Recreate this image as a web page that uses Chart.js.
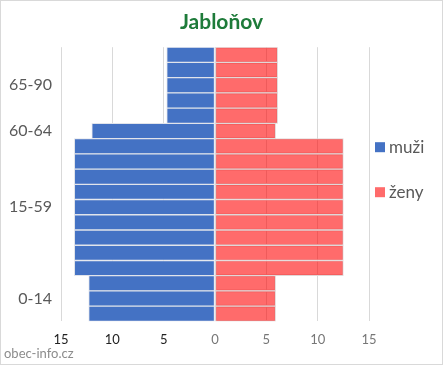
<!DOCTYPE html>
<html>
<head>
<meta charset="utf-8">
<script src="https://cdn.jsdelivr.net/npm/chart.js@4"></script>
<style>
  html, body { margin: 0; padding: 0; background: #fff; }
  #wrap { position: relative; width: 443px; height: 365px; }
  #frame { position: absolute; left: 0; top: 0; width: 443px; height: 365px; box-sizing: border-box; border: 1px solid #d9d9d9; pointer-events: none; }
  #src { position: absolute; left: 4px; top: 345px; font: 13px Lato, "Open Sans", sans-serif; color: #8c8c8c; }
</style>
</head>
<body>
<div id="wrap">
  <canvas id="chart" width="443" height="365"></canvas>
  <div id="frame"></div>
  <div id="src">obec-info.cz</div>
</div>
<script>
// věkové skupiny shora dolů
const ageGroups = ['65-90', '60-64', '15-59', '0-14'];
const rowsPerGroup = [5, 1, 9, 3];
const muzi = [4.7, 12.0, 13.7, 12.3];
const zeny = [6.1, 5.9, 12.5, 5.9];

const labels = [];
const menRows = [];
const womenRows = [];
ageGroups.forEach((g, i) => {
  const n = rowsPerGroup[i];
  for (let k = 0; k < n; k++) {
    labels.push(k === Math.floor(n / 2) ? g : '');
    menRows.push(-muzi[i]);
    womenRows.push(zeny[i]);
  }
});

// legenda vpravo od grafu
const sideLegend = {
  id: 'sideLegend',
  afterDraw(chart) {
    const ctx = chart.ctx;
    const a = chart.chartArea;
    ctx.save();
    ctx.font = '17px Lato';
    ctx.textBaseline = 'middle';
    chart.data.datasets.forEach((ds, i) => {
      const y = a.top + 100 + i * 45;
      ctx.fillStyle = ds.backgroundColor;
      ctx.fillRect(a.right + 6, y - 5, 10, 10);
      ctx.fillStyle = '#595959';
      ctx.fillText(ds.label, a.right + 20, y);
    });
    ctx.restore();
  }
};

new Chart(document.getElementById('chart'), {
  type: 'bar',
  data: {
    labels: labels,
    datasets: [
      { label: 'muži', data: menRows, backgroundColor: '#4472C4', borderColor: 'rgba(225,228,235,1)', borderWidth: 1, borderSkipped: false, barPercentage: 1, categoryPercentage: 1 },
      { label: 'ženy', data: womenRows, backgroundColor: 'rgba(255,0,0,0.58)', borderColor: 'rgba(225,215,215,1)', borderWidth: 1, borderSkipped: false, barPercentage: 1, categoryPercentage: 1 }
    ]
  },
  options: {
    indexAxis: 'y',
    responsive: false,
    animation: false,
    layout: { padding: { left: 0, right: 0, bottom: 6 } },
    plugins: {
      title: { display: true, text: 'Jabloňov', color: '#1E7B3A', font: { family: 'Lato', size: 21, weight: 'bold' }, padding: { top: 10, bottom: 12 } },
      legend: { display: false },
      tooltip: { enabled: false }
    },
    scales: {
      x: {
        stacked: true, min: -15, max: 15,
        grid: { color: '#d9d9d9', drawTicks: false },
        border: { display: false },
        ticks: {
          stepSize: 5, padding: 11,
          callback: v => Math.abs(v),
          color: ctx => ctx.tick.value < 0 ? '#222' : '#777',
          font: { family: 'Lato', size: 13 }
        }
      },
      y: {
        stacked: true,
        grid: { display: false, drawTicks: false },
        border: { display: false },
        ticks: { autoSkip: false, color: '#595959', font: { family: 'Lato', size: 16 }, padding: 9 },
        afterFit: s => { s.width = 61; }
      },
      // prázdné místo pro legendu
      yLegend: {
        position: 'right',
        grid: { display: false, drawTicks: false },
        border: { display: false },
        ticks: { display: false },
        afterFit: s => { s.width = 74; }
      }
    }
  },
  plugins: [sideLegend]
});
</script>
</body>
</html>
